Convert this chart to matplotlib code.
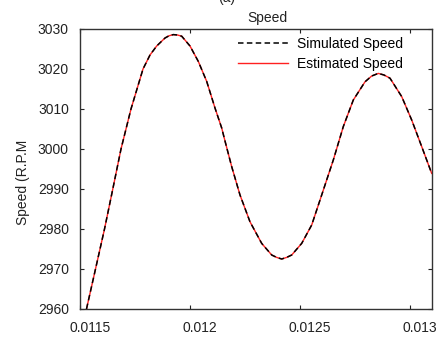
import matplotlib
matplotlib.use("Agg")
import matplotlib.pyplot as plt
from matplotlib.transforms import ScaledTranslation

# time (s) and rotor speed (R.P.M)
tiempo = [0.0115295, 0.0115705, 0.0116114, 0.0116491, 0.0116864, 0.0117318,
          0.0117864, 0.0118182, 0.0118486, 0.0118864, 0.0119045, 0.0119241,
          0.0119432, 0.0119623, 0.0120000, 0.0120377, 0.0120759, 0.0121136,
          0.0121441, 0.0121591, 0.0121895, 0.0122273, 0.0122727, 0.0123259,
          0.0123714, 0.0123941, 0.0124168, 0.0124395, 0.0124623, 0.0125077,
          0.0125532, 0.0125986, 0.0126514, 0.0126968, 0.0127423,
          0.0127955, 0.0128259, 0.0128559, 0.0128818, 0.0129091, 0.0129623,
          0.0130077, 0.0130532, 0.0130986]
vel_simulada = [2960.0, 2970.0, 2980.0, 2990.0, 3000.0, 3010.0,
                3020.0, 3023.5, 3025.75, 3027.75, 3028.3, 3028.6,
                3028.5, 3028.2, 3025.75, 3021.9, 3016.9, 3010.25,
                3005.25, 3002.0, 2995.6, 2988.5, 2981.8, 2976.4,
                2973.5, 2972.9, 2972.5, 2972.9, 2973.5, 2976.4,
                2981.0, 2988.5, 2997.25, 3005.6, 3012.25,
                3016.8, 3018.25, 3018.9, 3018.5, 3017.7, 3013.1,
                3007.25, 3000.6, 2993.9]
# estimator output lies on top of the simulated speed at this scale
vel_estimada = list(vel_simulada)

xticks = [0.0115, 0.012, 0.0125, 0.013]
xtick_labels = ["0.0115", "0.012", "0.0125", "0.013"]
yticks = [2960, 2970, 2980, 2990, 3000, 3010, 3020, 3030]

plt.rcParams["font.family"] = ["Liberation Sans", "DejaVu Sans"]
plt.rcParams["font.size"] = 10

fig = plt.figure(figsize=(4.38, 3.37), dpi=100)
ax = fig.add_axes([80 / 438, 1 - 309 / 337, 352 / 438, 280 / 337])

ax.plot(tiempo, vel_simulada, color="black", linestyle="--", dashes=(3.6, 2.2),
        linewidth=1.1, label="Simulated Speed", zorder=3)
ax.plot(tiempo, vel_estimada, color="#ff2020", linewidth=1.0,
        label="Estimated Speed", zorder=2)

ax.set_xlim(0.0115, 0.0131)
ax.set_ylim(2960, 3030)
ax.set_xticks(xticks)
ax.set_xticklabels(xtick_labels)
ax.set_yticks(yticks)
ax.tick_params(direction="in", length=3, top=True, right=True,
               colors="#222222", labelsize=10)
ax.tick_params(axis="x", pad=9)
ax.tick_params(axis="y", pad=8)
for s in ax.spines.values():
    s.set_color("#333333")
    s.set_linewidth(1.0)

desplaz = ScaledTranslation(0.10, 0, fig.dpi_scale_trans)
for lbl in ax.get_xticklabels():
    lbl.set_transform(lbl.get_transform() + desplaz)

ax.set_title("Speed", x=0.531, pad=5, fontsize=10, color="#222222")
ax.set_ylabel("Speed (R.P.M", fontsize=10, color="#222222")
ax.yaxis.set_label_coords(-0.142, 0.452)

fig.text(227 / 438, 1 - 2 / 337, "(a)", ha="center", va="baseline",
         fontsize=10, color="#222222")

leg = ax.legend(loc="upper left", bbox_to_anchor=(0.449, 0.971), frameon=False,
                borderpad=0, borderaxespad=0, handlelength=3.6,
                handletextpad=0.65, labelspacing=0.4, fontsize=10)

fig.savefig("out.png", dpi=100)
